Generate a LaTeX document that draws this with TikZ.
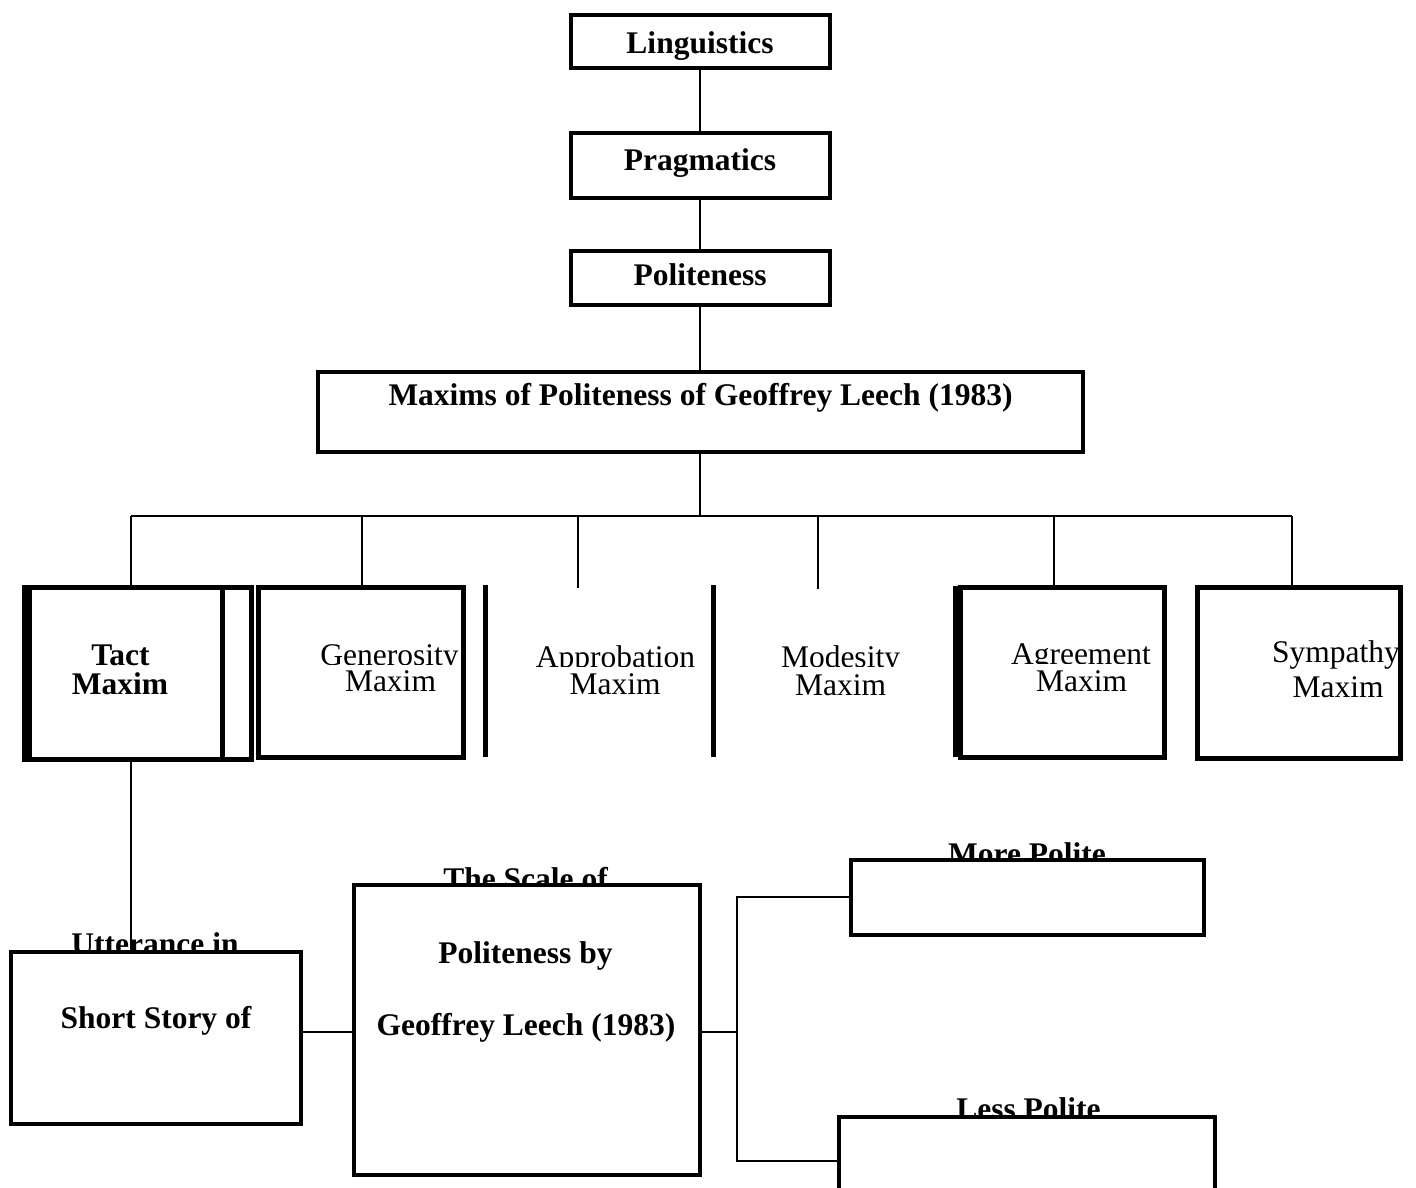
\documentclass[tikz,border=0pt]{standalone}
\usepackage{fontspec}
\setmainfont{Liberation Serif}
\begin{document}
\begin{tikzpicture}[x=1pt, y=-1pt,
  box/.style={draw, line width=4pt, inner sep=0pt},
  maxbox/.style={draw, line width=5pt, inner sep=0pt},
  link/.style={line width=1.7pt},
  lbl/.style={anchor=base, inner sep=0pt, font=\fontsize{31.5}{31.5}\selectfont\bfseries},
  lbr/.style={anchor=base, inner sep=0pt, font=\fontsize{31.5}{31.5}\selectfont},
  cover/.style={lbr, fill=white, text height=#1, text width=150pt, align=center}]
% Page frame
\useasboundingbox (0,0) rectangle (1416,1187);
\clip (0,0) rectangle (1416,1187);

% Top chain
\node[box, minimum width=259, minimum height=53] (ling) at (700,41.5) {};
\node[lbl] (t-ling) at (700,53) {Linguistics};
\node[box, minimum width=259, minimum height=65] (prag) at (700,165.5) {};
\node[lbl] (t-prag) at (700,170) {Pragmatics};
\node[box, minimum width=259, minimum height=54] (polit) at (700,278) {};
\node[lbl] (t-polit) at (700,285) {Politeness};
\node[box, minimum width=765, minimum height=80] (maxims) at (700,412) {};
\node[lbl] (t-maxims) at (700.5,405) {Maxims of Politeness of Geoffrey Leech (1983)};

% Maxim labels
\node[lbl] (t-tact) at (120.5,665) {Tact};
\node[lbl] (m-tact) at (120,694) {Maxim};
\node[lbr] (t-gen) at (389.5,665) {Generosity};
\node[cover=26pt] (m-gen) at (390.5,691) {Maxim};
\node[lbr] (t-apb) at (615.5,667) {Approbation};
\node[cover=27pt] (m-apb) at (615,694) {Maxim};
\node[lbr] (t-mod) at (840.5,667) {Modesity};
\node[cover=28pt] (m-mod) at (840.5,695) {Maxim};
\node[lbr] (t-agr) at (1081,664) {Agreement};
\node[cover=27pt] (m-agr) at (1081.5,691) {Maxim};
\node[lbr] (t-sym) at (1336,662) {Sympathy};
\node[lbr] (m-sym) at (1338,697) {Maxim};

% Maxim boxes
\node[maxbox, minimum width=227, minimum height=172] (tact) at (138,673.5) {};
\node[maxbox, minimum width=193, minimum height=172] (tactin) at (126,673.5) {};
\node[maxbox, minimum width=205, minimum height=170] (gen) at (360.5,672) {};
\draw[line width=5pt] (485,585) -- (485,757);
\draw[line width=5pt] (713,585) -- (713,757);
\node[maxbox, minimum width=204, minimum height=170] (agr) at (1062,672.5) {};
\draw[line width=5pt] (955,586) -- (955,757);
\node[maxbox, minimum width=203, minimum height=171] (sym) at (1298.5,672.5) {};

% Connectors of the top part
\coordinate (bus) at (700,516);
\coordinate (bl) at (131,516);
\coordinate (br) at (1292,516);
\coordinate (apb) at (578,588);
\coordinate (mod) at (818,589);
\coordinate (agd) at (1054,516);
\coordinate (gnd) at (362,516);
\draw[link] (ling.south) -- (prag.north);
\draw[link] (prag.south) -- (polit.north);
\draw[link] (polit.south) -- (maxims.north);
\draw[link] (maxims.south) -- (bus);
\draw[link] (bl) -- (br);
\draw[link] (bl) -- (bl |- tact.north);
\draw[link] (gnd) -- (gnd |- gen.north);
\draw[link] (apb |- bl) -- (apb);
\draw[link] (mod |- bl) -- (mod);
\draw[link] (agd) -- (agd |- agr.north);
\draw[link] (br) -- (br |- sym.north);

% Bottom part
\node[lbl] (t-utt) at (155,954) {Utterance in};
\node[lbl] (t-scale) at (525.5,889) {The Scale of};
\node[lbl] (t-more) at (1027,864) {More Polite};
\node[lbl] (t-less) at (1028.5,1119) {Less Polite};
\node[box, fill=white, minimum width=290.5, minimum height=172] (utt) at (155.75,1037.5) {};
\node[box, fill=white, minimum width=346, minimum height=290] (scale) at (526.5,1030) {};
\node[box, fill=white, minimum width=353, minimum height=74.5] (more) at (1027,897.25) {};
\node[box, fill=white, minimum width=375.5, minimum height=88] (less) at (1026.75,1161) {};
\node[lbl] (s-utt) at (156,1028) {Short Story of};
\node[lbl] (s-scale) at (525.5,963) {Politeness by};
\node[lbl] (g-scale) at (526,1035) {Geoffrey Leech (1983)};

\coordinate (j) at (737,1032);
\draw[link] (bl |- tact.south) -- (bl |- utt.north);
\draw[link] (utt.east |- j) -- (scale.west |- j);
\draw[link] (scale.east |- j) -- (j);
\draw[link] (more.west) -| (j) |- (less.west);
\end{tikzpicture}
\end{document}
